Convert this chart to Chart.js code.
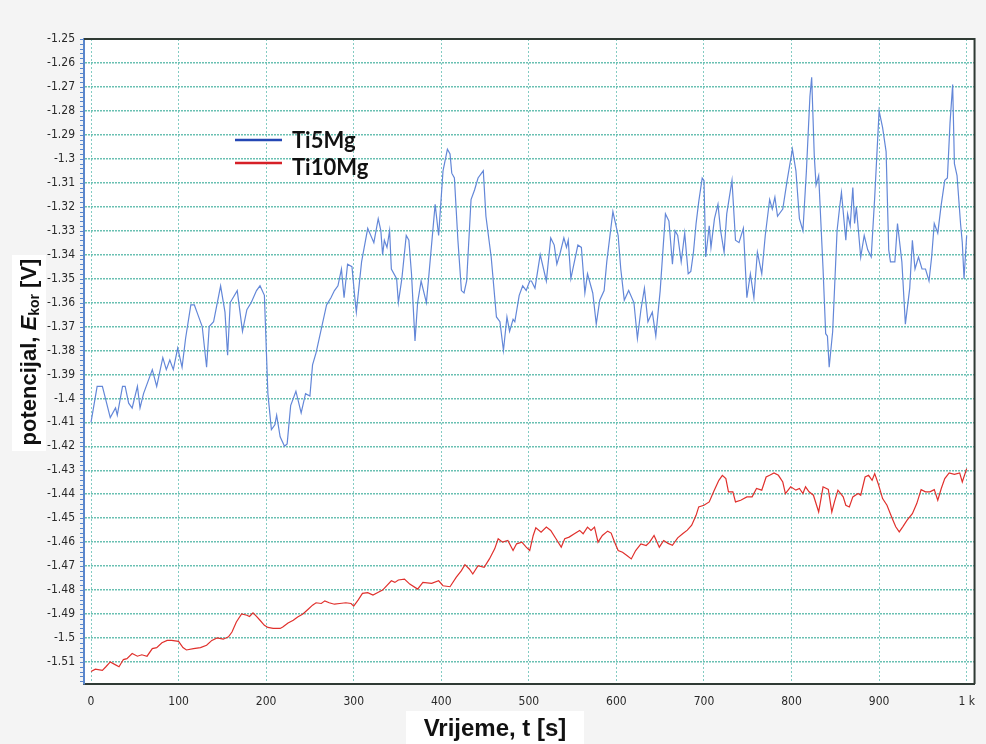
<!DOCTYPE html>
<html>
<head>
<meta charset="utf-8">
<script src="https://cdn.jsdelivr.net/npm/chart.js@4/dist/chart.umd.min.js"></script>
<style>
  body { margin: 0; background: #f4f4f4; }
  #wrap { width: 986px; height: 744px; position: relative; }
</style>
</head>
<body>
<div id="wrap"><canvas id="myChart"></canvas></div>
<script>
'use strict';

// Ti5Mg: time [s] and corrosion potential [V]
let ti5Time = [0, 7, 13, 22, 28, 30, 36, 39, 43, 47, 53, 56, 60, 70, 75, 82, 86, 90, 94, 99,
  104, 108, 114, 118, 121, 127, 132, 135, 140, 148, 153, 156, 159, 167, 173, 178, 183, 189, 193, 198,
  202, 206, 210, 212, 216, 221, 224, 228, 234, 240, 245, 250, 253, 257, 269, 274, 278, 282, 286, 289,
  293, 298, 301, 303, 309, 316, 323, 328, 331, 333, 335, 338, 341, 343, 349, 351, 355, 360, 363, 366,
  370, 373, 377, 383, 386, 393, 397, 402, 407, 410, 412, 415, 419, 423, 426, 429, 434, 438, 442, 448,
  451, 457, 463, 467, 471, 475, 478, 482, 484, 489, 493, 497, 501, 503, 507, 513, 520, 525, 529, 532,
  536, 540, 543, 545, 548, 556, 560, 564, 567, 573, 577, 581, 586, 589, 596, 602, 605, 609, 614, 620,
  624, 628, 632, 636, 641, 645, 650, 656, 660, 664, 667, 670, 674, 678, 682, 685, 688, 691, 694, 698,
  700, 702, 706, 708, 712, 716, 719, 723, 726, 732, 736, 740, 745, 749, 753, 757, 761, 766, 770, 775,
  778, 781, 784, 790, 795, 801, 805, 809, 813, 817, 821, 823, 826, 828, 831, 836, 839, 841, 843, 847,
  852, 855, 857, 862, 864, 867, 870, 872, 874, 879, 883, 887, 891, 895, 900, 904, 908, 911, 913, 918,
  921, 926, 930, 935, 938, 941, 945, 949, 953, 957, 960, 963, 967, 971, 975, 978, 981, 984, 986, 989,
  993, 995, 997, 1000];
let ti5Pot = [-1.410, -1.395, -1.395, -1.408, -1.404, -1.407, -1.395, -1.395, -1.402, -1.404, -1.395, -1.404, -1.398, -1.388, -1.395, -1.383, -1.388, -1.384, -1.388, -1.379,
  -1.387, -1.375, -1.361, -1.361, -1.364, -1.370, -1.387, -1.370, -1.368, -1.353, -1.364, -1.382, -1.360, -1.355, -1.372, -1.363, -1.360, -1.355, -1.353, -1.357,
  -1.398, -1.413, -1.411, -1.407, -1.416, -1.420, -1.419, -1.403, -1.397, -1.406, -1.398, -1.399, -1.386, -1.381, -1.361, -1.358, -1.355, -1.353, -1.346, -1.358,
  -1.344, -1.345, -1.357, -1.364, -1.343, -1.329, -1.335, -1.325, -1.330, -1.340, -1.334, -1.337, -1.330, -1.346, -1.350, -1.360, -1.350, -1.332, -1.334, -1.348,
  -1.376, -1.360, -1.351, -1.360, -1.348, -1.319, -1.332, -1.305, -1.296, -1.298, -1.306, -1.308, -1.334, -1.355, -1.356, -1.351, -1.317, -1.313, -1.308, -1.305,
  -1.324, -1.341, -1.366, -1.368, -1.380, -1.366, -1.372, -1.367, -1.368, -1.357, -1.353, -1.355, -1.351, -1.351, -1.354, -1.340, -1.351, -1.333, -1.336, -1.344,
  -1.339, -1.333, -1.337, -1.334, -1.350, -1.336, -1.337, -1.356, -1.348, -1.356, -1.369, -1.359, -1.355, -1.343, -1.322, -1.332, -1.346, -1.359, -1.355, -1.360,
  -1.375, -1.363, -1.354, -1.368, -1.364, -1.374, -1.355, -1.323, -1.326, -1.344, -1.330, -1.332, -1.343, -1.331, -1.348, -1.347, -1.339, -1.327, -1.318, -1.308,
  -1.309, -1.341, -1.328, -1.337, -1.325, -1.319, -1.330, -1.339, -1.323, -1.309, -1.334, -1.335, -1.329, -1.358, -1.348, -1.358, -1.339, -1.348, -1.332, -1.317,
  -1.321, -1.316, -1.324, -1.321, -1.309, -1.296, -1.305, -1.325, -1.330, -1.305, -1.274, -1.266, -1.299, -1.311, -1.307, -1.346, -1.373, -1.374, -1.387, -1.372,
  -1.330, -1.320, -1.314, -1.334, -1.323, -1.328, -1.312, -1.327, -1.320, -1.341, -1.332, -1.338, -1.341, -1.316, -1.280, -1.287, -1.297, -1.338, -1.343, -1.343,
  -1.327, -1.343, -1.369, -1.354, -1.334, -1.346, -1.341, -1.346, -1.346, -1.351, -1.341, -1.327, -1.331, -1.319, -1.309, -1.308, -1.285, -1.269, -1.302, -1.307,
  -1.327, -1.335, -1.350, -1.332];

// Ti10Mg
let ti10Time = [0, 5, 13, 17, 22, 27, 32, 37, 41, 47, 53, 58, 64, 70, 75, 81, 87, 92, 100, 105,
  109, 117, 125, 132, 138, 144, 151, 157, 161, 166, 172, 178, 181, 185, 189, 193, 198, 202, 208, 216,
  219, 225, 231, 236, 242, 248, 253, 257, 263, 267, 272, 278, 284, 291, 297, 300, 305, 310, 316, 322,
  327, 333, 343, 347, 351, 358, 364, 373, 379, 389, 397, 402, 410, 417, 423, 427, 432, 436, 442, 449,
  455, 461, 465, 470, 476, 482, 486, 492, 497, 501, 505, 508, 514, 520, 525, 531, 537, 541, 546, 552,
  558, 562, 567, 571, 575, 579, 584, 590, 594, 598, 602, 607, 612, 617, 622, 628, 634, 638, 643, 649,
  654, 659, 664, 670, 676, 681, 686, 691, 694, 700, 706, 711, 717, 721, 725, 728, 733, 736, 742, 749,
  755, 760, 766, 771, 775, 780, 785, 790, 793, 799, 805, 809, 813, 816, 820, 825, 831, 836, 842, 846,
  849, 853, 859, 862, 866, 870, 876, 879, 884, 888, 892, 895, 899, 904, 909, 915, 919, 923, 927, 932,
  938, 943, 948, 953, 958, 963, 967, 971, 975, 980, 986, 992, 995, 1000];
let ti10Pot = [-1.5140, -1.5130, -1.5135, -1.5120, -1.5100, -1.5110, -1.5120, -1.5090, -1.5086, -1.5065, -1.5076, -1.5070, -1.5076, -1.5044, -1.5040, -1.5020, -1.5010, -1.5010, -1.5014, -1.5040,
  -1.5050, -1.5044, -1.5040, -1.5030, -1.5010, -1.5000, -1.5005, -1.4995, -1.4975, -1.4933, -1.4900, -1.4905, -1.4910, -1.4895, -1.4910, -1.4926, -1.4947, -1.4956, -1.4960, -1.4960,
  -1.4954, -1.4937, -1.4926, -1.4912, -1.4900, -1.4880, -1.4863, -1.4853, -1.4856, -1.4845, -1.4853, -1.4859, -1.4856, -1.4853, -1.4856, -1.4867, -1.4842, -1.4814, -1.4811, -1.4821,
  -1.4811, -1.4800, -1.4761, -1.4768, -1.4758, -1.4754, -1.4775, -1.4796, -1.4768, -1.4772, -1.4761, -1.4782, -1.4786, -1.4747, -1.4719, -1.4694, -1.4712, -1.4733, -1.4698, -1.4705,
  -1.4670, -1.4628, -1.4586, -1.4600, -1.4593, -1.4635, -1.4607, -1.4600, -1.4621, -1.4635, -1.4572, -1.4540, -1.4558, -1.4537, -1.4551, -1.4586, -1.4621, -1.4586, -1.4579, -1.4565,
  -1.4551, -1.4565, -1.4537, -1.4551, -1.4537, -1.4600, -1.4572, -1.4554, -1.4562, -1.4600, -1.4635, -1.4642, -1.4656, -1.4670, -1.4635, -1.4607, -1.4614, -1.4600, -1.4572, -1.4621,
  -1.4593, -1.4605, -1.4613, -1.4582, -1.4564, -1.4550, -1.4529, -1.4488, -1.4453, -1.4446, -1.4432, -1.4390, -1.4342, -1.4321, -1.4335, -1.4390, -1.4390, -1.4432, -1.4425, -1.4411,
  -1.4411, -1.4376, -1.4383, -1.4328, -1.4321, -1.4311, -1.4321, -1.4349, -1.4397, -1.4369, -1.4383, -1.4376, -1.4397, -1.4369, -1.4390, -1.4404, -1.4474, -1.4369, -1.4380, -1.4474,
  -1.4432, -1.4383, -1.4411, -1.4446, -1.4453, -1.4411, -1.4397, -1.4404, -1.4328, -1.4321, -1.4342, -1.4314, -1.4356, -1.4418, -1.4446, -1.4501, -1.4536, -1.4557, -1.4536, -1.4508,
  -1.4481, -1.4439, -1.4381, -1.4390, -1.4390, -1.4381, -1.4425, -1.4376, -1.4335, -1.4311, -1.4317, -1.4311, -1.4349, -1.4293];

let seriesNames = ['Ti5Mg', 'Ti10Mg'];
let xTicks = [0, 100, 200, 300, 400, 500, 600, 700, 800, 900, 1000];
let yTicks = [-1.25, -1.26, -1.27, -1.28, -1.29, -1.3, -1.31, -1.32, -1.33, -1.34, -1.35, -1.36, -1.37,
  -1.38, -1.39, -1.4, -1.41, -1.42, -1.43, -1.44, -1.45, -1.46, -1.47, -1.48, -1.49, -1.5, -1.51];

function toPoints(xs, ys) {
  let pts = [];
  for (let i = 0; i < xs.length; i++) {
    pts.push({ x: xs[i], y: ys[i] });
  }
  return pts;
}

let tickFont = { family: "'DejaVu Sans Condensed', 'Liberation Sans Narrow', sans-serif", size: 12 };
let titleFamily = "'Liberation Sans', Arial, sans-serif";

// white plot area, frame, minor ticks, legend and axis titles
let decor = {
  id: 'decor',
  beforeDraw(chart) {
    let ctx = chart.ctx;
    let a = chart.chartArea;
    ctx.save();
    ctx.fillStyle = '#ffffff';
    ctx.fillRect(a.left, a.top, a.right - a.left, a.bottom - a.top);
    ctx.restore();
  },
  afterDraw(chart) {
    let ctx = chart.ctx;
    let a = chart.chartArea;
    let yScale = chart.scales.y;
    ctx.save();

    // top + right frame
    ctx.strokeStyle = '#2f3a34';
    ctx.lineWidth = 2;
    ctx.beginPath();
    ctx.moveTo(a.left, a.top);
    ctx.lineTo(a.right, a.top);
    ctx.lineTo(a.right, a.bottom);
    ctx.stroke();

    // minor ticks on the left axis
    ctx.strokeStyle = '#5b87cc';
    ctx.lineWidth = 1;
    ctx.beginPath();
    for (let v = -1.25; v > yScale.min; v -= 0.002) {
      let py = Math.round(yScale.getPixelForValue(v)) + 0.5;
      ctx.moveTo(a.left - 4, py);
      ctx.lineTo(a.left, py);
    }
    ctx.stroke();

    // legend
    let lx = 235, ly = 140;
    chart.data.datasets.forEach(function (ds, i) {
      let y = ly + i * 23;
      ctx.strokeStyle = ds.legendColor;
      ctx.lineWidth = 2.5;
      ctx.beginPath();
      ctx.moveTo(lx, y);
      ctx.lineTo(lx + 47, y);
      ctx.stroke();
      ctx.fillStyle = '#111';
      ctx.font = "bold 22px Lato, 'Open Sans', sans-serif";
      ctx.textBaseline = 'alphabetic';
      ctx.textAlign = 'left';
      ctx.fillText(ds.label, lx + 57, y + 8 + i * 4);
    });

    // x axis title
    ctx.fillStyle = '#ffffff';
    ctx.fillRect(406, 711, 178, 33);
    ctx.fillStyle = '#111';
    ctx.font = 'bold 24px ' + titleFamily;
    ctx.textAlign = 'center';
    ctx.textBaseline = 'middle';
    ctx.fillText('Vrijeme, t [s]', 495, 729);

    // y axis title with subscript
    ctx.fillStyle = '#ffffff';
    ctx.fillRect(12, 255, 34, 196);
    ctx.translate(30, 352);
    ctx.rotate(-Math.PI / 2);
    let parts = [
      { t: 'potencijal, ', f: 'bold 22px ' + titleFamily, dy: 0 },
      { t: 'E', f: 'italic bold 22px ' + titleFamily, dy: 0 },
      { t: 'kor', f: 'bold 14px ' + titleFamily, dy: 5 },
      { t: ' [V]', f: 'bold 22px ' + titleFamily, dy: 0 }
    ];
    let total = 0;
    parts.forEach(function (p) {
      ctx.font = p.f;
      p.w = ctx.measureText(p.t).width;
      total += p.w;
    });
    let x = -total / 2;
    ctx.fillStyle = '#111';
    ctx.textAlign = 'left';
    ctx.textBaseline = 'middle';
    parts.forEach(function (p) {
      ctx.font = p.f;
      ctx.fillText(p.t, x, p.dy);
      x += p.w;
    });
    ctx.restore();
  }
};

let ctx = document.getElementById('myChart').getContext('2d');
let chart = new Chart(ctx, {
  type: 'line',
  data: {
    datasets: [{
      label: seriesNames[0],
      data: toPoints(ti5Time, ti5Pot),
      borderColor: '#6387d8',
      legendColor: '#2447b4',
      borderWidth: 1.2,
      pointRadius: 0,
      tension: 0
    },
    {
      label: seriesNames[1],
      data: toPoints(ti10Time, ti10Pot),
      borderColor: '#e0302c',
      legendColor: '#d62027',
      borderWidth: 1.2,
      pointRadius: 0,
      tension: 0
    }]
  },
  options: {
    responsive: true,
    maintainAspectRatio: false,
    animation: false,
    layout: { padding: { top: 39, right: 7, left: 0, bottom: 0 } },
    plugins: {
      legend: { display: false },
      tooltip: { enabled: false }
    },
    scales: {
      x: {
        type: 'linear',
        min: -8,
        max: 1009,
        afterBuildTicks: function (scale) {
          scale.ticks = xTicks.map(function (v) { return { value: v }; });
        },
        afterFit: function (scale) { scale.height = 60; },
        ticks: {
          font: tickFont,
          color: '#2a2a2a',
          padding: 11,
          maxRotation: 0,
          callback: function (v) { return v === 1000 ? '1 k' : String(v); }
        },
        grid: { color: 'rgba(110,195,185,0.85)', lineWidth: 1, drawTicks: false },
        border: { color: '#2f3a34', width: 2, dash: [2, 2] }
      },
      y: {
        min: -1.5192,
        max: -1.25,
        afterBuildTicks: function (scale) {
          scale.ticks = yTicks.map(function (v) { return { value: v }; });
        },
        afterFit: function (scale) { scale.width = 84; },
        ticks: {
          font: tickFont,
          color: '#2a2a2a',
          padding: 9,
          callback: function (v) { return String(parseFloat(v.toFixed(2))); }
        },
        grid: { color: 'rgba(90,185,170,0.9)', lineWidth: 1.5, drawTicks: false },
        border: { color: '#5b87cc', width: 2, dash: [2, 1] }
      }
    }
  },
  plugins: [decor]
});
</script>
</body>
</html>
